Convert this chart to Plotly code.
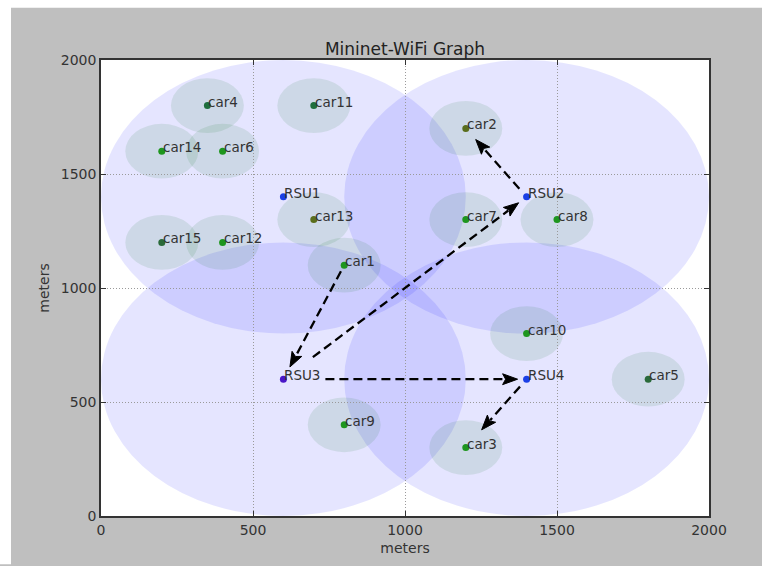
import math
import plotly.graph_objects as go

# ---------------- data ----------------
rsu_names = ["RSU1", "RSU2", "RSU3", "RSU4"]
rsu_x = [600, 1400, 600, 1400]
rsu_y = [1400, 1400, 600, 600]
rsu_range = [600, 600, 600, 600]

car_names = ["car1", "car2", "car3", "car4", "car5", "car6", "car7", "car8",
             "car9", "car10", "car11", "car12", "car13", "car14", "car15"]
car_x = [800, 1200, 1200, 350, 1800, 400, 1200, 1500, 800, 1400, 700, 400, 700, 200, 200]
car_y = [1100, 1700, 300, 1800, 600, 1600, 1300, 1300, 400, 800, 1800, 1200, 1300, 1600, 1200]
car_range = [120] * 15

link_src = ["car1", "RSU3", "RSU2", "RSU3", "RSU4"]
link_dst = ["RSU3", "RSU2", "car2", "RSU4", "car3"]

x_ticks = [0, 500, 1000, 1500, 2000]
y_ticks = [0, 500, 1000, 1500, 2000]

# ---------------- style ----------------
W_FIG, H_FIG = 762, 566
ML, MR, MT, MB = 101, 53, 60, 44
PW, PH = W_FIG - ML - MR, H_FIG - MT - MB
sx, sy = PW / 2000.0, PH / 2000.0
BG = "#bfbfbf"

# per-link gap (px) between node and arrow start / arrow tip
link_shrink_a = [7, 37, 11, 42, 10]
link_shrink_b = [14, 10, 15, 9, 24]
HEAD_LEN, HEAD_HALF, HEAD_NOTCH = 15, 5.5, 3

car_colors = {"car2": "#5a6e1c", "car13": "#5a6e1c", "car4": "#1f6e3c",
              "car11": "#1f6e3c", "car15": "#2a6a3a", "car5": "#2a6a3a"}
rsu_colors = ["#1b3fe6", "#1b3fe6", "#4a16c8", "#1b3fe6"]
LABEL_FONT = dict(family="DejaVu Sans", size=13.5, color="#333333")

pos = {}
for n, x, y in zip(rsu_names, rsu_x, rsu_y):
    pos[n] = (x, y)
for n, x, y in zip(car_names, car_x, car_y):
    pos[n] = (x, y)

fig = go.Figure()

shapes = []
for x, y, r in zip(rsu_x, rsu_y, rsu_range):
    shapes.append(dict(type="circle", xref="x", yref="y", x0=x - r, x1=x + r,
                       y0=y - r, y1=y + r, fillcolor="rgba(0,0,255,0.1)",
                       line=dict(width=0), layer="below"))
for x, y, r in zip(car_x, car_y, car_range):
    shapes.append(dict(type="circle", xref="x", yref="y", x0=x - r, x1=x + r,
                       y0=y - r, y1=y + r, fillcolor="rgba(0,110,20,0.1)",
                       line=dict(width=0), layer="below"))


# white border strips of the screenshot (top and left)
def px2paper_x(px):
    return (px - ML) / PW


def px2paper_y(py):
    return (H_FIG - MB - py) / PH


shapes.append(dict(type="rect", xref="paper", yref="paper",
                   x0=px2paper_x(-5), x1=px2paper_x(W_FIG + 5),
                   y0=px2paper_y(7), y1=px2paper_y(-5),
                   fillcolor="white", line=dict(width=0), layer="below"))
shapes.append(dict(type="rect", xref="paper", yref="paper",
                   x0=px2paper_x(-5), x1=px2paper_x(11),
                   y0=px2paper_y(H_FIG + 5), y1=px2paper_y(-5),
                   fillcolor="white", line=dict(width=0), layer="below"))

# arrows (dashed line + filled head), computed in pixel space
for s, d, sa, sb in zip(link_src, link_dst, link_shrink_a, link_shrink_b):
    x0, y0 = pos[s][0] * sx, pos[s][1] * sy
    x1, y1 = pos[d][0] * sx, pos[d][1] * sy
    dx, dy = x1 - x0, y1 - y0
    L = math.hypot(dx, dy)
    ux, uy = dx / L, dy / L
    nx, ny = -uy, ux
    stx, sty = x0 + ux * sa, y0 + uy * sa
    tx, ty = x1 - ux * sb, y1 - uy * sb
    bx, by = tx - ux * (HEAD_LEN - 2), ty - uy * (HEAD_LEN - 2)
    fig.add_trace(go.Scatter(x=[stx / sx, bx / sx], y=[sty / sy, by / sy],
                             mode="lines", hoverinfo="skip", showlegend=False,
                             line=dict(color="black", width=2.3, dash="9px,5px")))
    hbx, hby = tx - ux * HEAD_LEN, ty - uy * HEAD_LEN
    nbx, nby = tx - ux * (HEAD_LEN - HEAD_NOTCH), ty - uy * (HEAD_LEN - HEAD_NOTCH)
    hx = [tx, hbx + nx * HEAD_HALF, nbx, hbx - nx * HEAD_HALF, tx]
    hy = [ty, hby + ny * HEAD_HALF, nby, hby - ny * HEAD_HALF, ty]
    fig.add_trace(go.Scatter(x=[v / sx for v in hx], y=[v / sy for v in hy],
                             mode="lines", fill="toself", fillcolor="black",
                             line=dict(color="black", width=1),
                             hoverinfo="skip", showlegend=False))

# nodes
fig.add_trace(go.Scatter(
    x=car_x, y=car_y, mode="markers",
    marker=dict(size=7, color=[car_colors.get(n, "#1e961e") for n in car_names]),
    showlegend=False, cliponaxis=False))
fig.add_trace(go.Scatter(
    x=rsu_x, y=rsu_y, mode="markers",
    marker=dict(size=7, color=rsu_colors),
    showlegend=False, cliponaxis=False))

annotations = []
for n, x, y in list(zip(car_names, car_x, car_y)) + list(zip(rsu_names, rsu_x, rsu_y)):
    annotations.append(dict(x=x, y=y, xref="x", yref="y", text=n, showarrow=False,
                            xanchor="left", yanchor="middle", xshift=-1, yshift=4,
                            font=LABEL_FONT))

axis_common = dict(
    range=[0, 2000], showgrid=True, gridcolor="#9a9a9a", griddash="1px,2px",
    gridwidth=1, zeroline=False, showline=True, linecolor="#333333",
    linewidth=1.5, mirror="ticks", ticks="inside", ticklen=5,
    tickcolor="#333333", tickfont=dict(family="DejaVu Sans", size=14, color="#333333"),
)

fig.update_layout(
    width=W_FIG, height=H_FIG,
    margin=dict(l=ML, r=MR, t=MT, b=MB, pad=0),
    paper_bgcolor=BG, plot_bgcolor="white",
    title=dict(text="Mininet-WiFi Graph", x=(ML + PW / 2) / W_FIG, xanchor="center",
               y=1 - 49 / H_FIG, yanchor="middle",
               font=dict(family="DejaVu Sans", size=17, color="#222222")),
    xaxis=dict(axis_common, tickvals=x_ticks, ticktext=[str(v) for v in x_ticks],
               title=dict(text="meters", standoff=7,
                          font=dict(family="DejaVu Sans", size=14, color="#333333"))),
    yaxis=dict(axis_common, tickvals=y_ticks, ticktext=[str(v) for v in y_ticks],
               title=dict(text="meters", standoff=8,
                          font=dict(family="DejaVu Sans", size=14, color="#333333"))),
    shapes=shapes,
    annotations=annotations,
)

# remove the page's default body margin so the figure sits at the window origin
fig.write_html(
    "out.html",
    config={"displayModeBar": False},
    post_script=("document.body.style.margin='0';"
                 "document.body.style.overflow='hidden';"
                 "document.body.style.background='" + BG + "';"),
)
